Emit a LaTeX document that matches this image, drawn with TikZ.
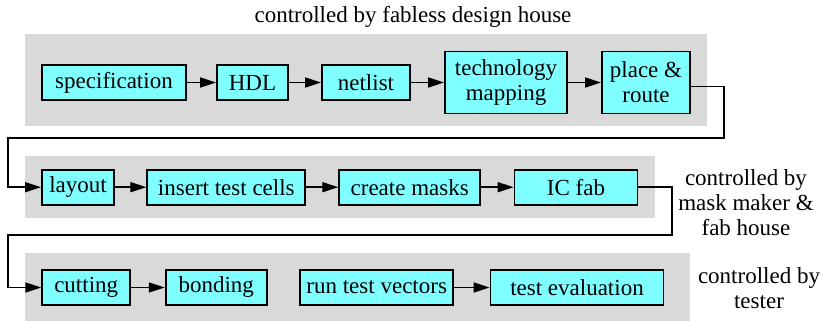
\documentclass[tikz,border=0pt]{standalone}
\usepackage{fontspec}
\newfontfamily\flowfont{LiberationSerif}[Extension=.ttf, UprightFont=*-Regular]
\usetikzlibrary{calc, positioning}
\usetikzlibrary{arrows.meta}

\definecolor{bandgrey}{HTML}{D9D9D9}
\definecolor{boxcyan}{HTML}{7FFFFF}

\tikzset{
  stepbox/.style={draw=black, line width=1.8pt, fill=boxcyan, inner sep=0pt,
    minimum height=35pt, align=center},
  band/.style={fill=bandgrey, draw=none},
  flow/.style={line width=1.5pt, -{Triangle[length=16pt, width=10pt]}},
  owner/.style={align=center},
}

\begin{document}
\begin{tikzpicture}[x=1pt, y=-1pt, font=\flowfont\fontsize{23}{25}\selectfont]
\useasboundingbox (0,0) rectangle (823,321);

\fill[band] (25,34) rectangle (707,126);
\fill[band] (25,156) rectangle (655,218);
\fill[band] (25,253) rectangle (690,321);

\node[stepbox, minimum width=144pt] (spec) at (114,82.5) {specification};
\node[stepbox, minimum width=71pt] (hdl) at (252.5,82.5) {HDL};
\node[stepbox, minimum width=88pt] (netlist) at (366,82.5) {netlist};
\node[stepbox, minimum width=122pt, minimum height=62pt] (techmap) at (506,82.5) {technology\\mapping};
\node[stepbox, minimum width=88pt, minimum height=62pt] (place) at (646,82.5) {place \&\\route};

\node[stepbox, minimum width=72pt] (layout) at (78,187.2) {layout};
\node[stepbox, minimum width=158pt] (cells) at (226.3,187.2) {insert test cells};
\node[stepbox, minimum width=141pt] (masks) at (409.7,187.2) {create masks};
\node[stepbox, minimum width=123pt] (icfab) at (576,187.2) {IC fab};

\node[stepbox, minimum width=88pt] (cutting) at (86.2,287.5) {cutting};
\node[stepbox, minimum width=101pt] (bonding) at (216.2,287.5) {bonding};
\node[stepbox, minimum width=153pt] (runtest) at (376.7,287.5) {run test vectors};
\node[stepbox, minimum width=173pt] (testeval) at (577,287.5) {test evaluation};

\node[owner] (ownerA) at (413,17) {controlled by fabless design house};
\node[owner] (ownerB) at (746,203) {controlled by\\mask maker \&\\fab house};
\node[owner] (ownerC) at (759,288) {controlled by\\tester};

\coordinate (turnA) at (724,138);
\coordinate (backA) at (8,138);
\coordinate (turnB) at (672,235);
\coordinate (backB) at (8,235);

\draw[flow] (spec) -- (hdl);
\draw[flow] (hdl) -- (netlist);
\draw[flow] (netlist) -- (techmap);
\draw[flow] (techmap) -- (place);
\draw[flow] ([yshift=-4pt]place.east) -| (turnA) -- (backA) |- (layout.west);
\draw[flow] (layout) -- (cells);
\draw[flow] (cells) -- (masks);
\draw[flow] (masks) -- (icfab);
\draw[flow] (icfab.east) -| (turnB) -- (backB) |- (cutting.west);
\draw[flow] (cutting) -- (bonding);
\draw[flow] (runtest) -- (testeval);
\end{tikzpicture}
\end{document}
